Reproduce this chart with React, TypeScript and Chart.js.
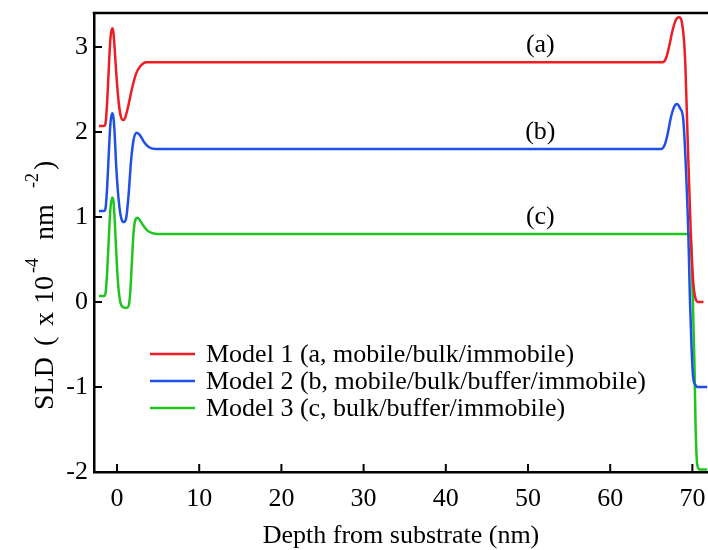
import React, { useEffect, useRef } from 'react';
import { Chart, registerables } from 'chart.js';

Chart.register(...registerables);

// ---------- data ----------
const model1X = [-2.2, -1.6, -1.4, -1.2, -1.0, -0.8, -0.6, -0.45, -0.3, -0.1, 0.2, 0.5, 0.75, 1.0, 1.4, 1.8, 2.3, 2.8, 3.6, 66.4, 66.8, 67.2, 67.6, 68.0, 68.4, 68.7, 69.0, 69.15, 69.4, 69.8, 70.1, 70.45, 70.7, 71.35];
const model1Y = [2.07, 2.07, 2.1, 2.35, 2.75, 3.1, 3.22, 3.18, 3.0, 2.7, 2.35, 2.17, 2.14, 2.17, 2.32, 2.5, 2.68, 2.77, 2.82, 2.82, 2.87, 3.02, 3.2, 3.32, 3.35, 3.3, 3.05, 2.77, 1.99, 0.83, 0.24, 0.02, 0.0, 0.0];

const model2X = [-2.2, -1.6, -1.4, -1.2, -1.0, -0.8, -0.6, -0.45, -0.3, -0.1, 0.2, 0.5, 0.8, 1.1, 1.4, 1.7, 2.0, 2.4, 2.8, 3.3, 3.9, 4.8, 66.2, 66.6, 67.0, 67.4, 67.8, 68.1, 68.5, 68.9, 69.2, 69.5, 69.7, 69.9, 70.1, 70.4, 70.6, 71.8];
const model2Y = [1.07, 1.07, 1.1, 1.35, 1.75, 2.1, 2.22, 2.18, 2.0, 1.6, 1.2, 0.99, 0.94, 0.98, 1.25, 1.65, 1.9, 1.99, 1.96, 1.88, 1.82, 1.8, 1.8, 1.84, 1.98, 2.18, 2.3, 2.33, 2.28, 2.14, 1.6, 0.83, 0.04, -0.54, -0.89, -0.98, -1.0, -1.0];

const model3X = [-2.2, -1.6, -1.4, -1.2, -1.0, -0.8, -0.6, -0.45, -0.3, -0.1, 0.1, 0.4, 0.7, 1.1, 1.4, 1.6, 1.8, 2.0, 2.25, 2.5, 2.8, 3.2, 3.7, 4.3, 5.0, 69.5, 69.8, 70.05, 70.25, 70.4, 70.6, 70.9, 71.8];
const model3Y = [0.07, 0.07, 0.1, 0.35, 0.75, 1.1, 1.23, 1.2, 1.0, 0.6, 0.25, 0.0, -0.06, -0.07, -0.05, 0.1, 0.45, 0.8, 0.97, 0.99, 0.96, 0.9, 0.84, 0.81, 0.8, 0.8, 0.74, 0.04, -0.73, -1.51, -1.92, -1.97, -1.97];

const seriesLabels = [
  'Model 1 (a, mobile/bulk/immobile)',
  'Model 2 (b, mobile/bulk/buffer/immobile)',
  'Model 3 (c, bulk/buffer/immobile)',
];
const seriesColors = ['#ee1c24', '#1f4fe6', '#1fc41f'];

const xTicks = [0, 10, 20, 30, 40, 50, 60, 70];
const yTicks = [-2, -1, 0, 1, 2, 3];

const curveTags = ['(a)', '(b)', '(c)'];
const tagX = [51.5, 51.5, 51.5];
const tagY = [3.02, 2.0, 1.0];

const xTitle = 'Depth from substrate (nm)';
const yTitleParts = [
  { t: 'SLD', sup: false, at: 0 },
  { t: '(', sup: false, at: 64 },
  { t: 'x', sup: false, at: 84 },
  { t: '10', sup: false, at: 106 },
  { t: '-4', sup: true, at: 137 },
  { t: 'nm', sup: false, at: 170 },
  { t: '-2', sup: true, at: 222 },
  { t: ')', sup: false, at: 240 },
];

const FONT = "'Liberation Serif', 'Times New Roman', serif";

const decorPlugin = {
  id: 'decor',
  afterDraw(chart: any) {
    const { ctx, chartArea: a, scales } = chart;
    const x = scales.x;
    const y = scales.y;
    ctx.save();
    ctx.strokeStyle = '#000';
    // top border
    ctx.lineWidth = 2.5;
    ctx.beginPath();
    ctx.moveTo(a.left - 1.25, a.top);
    ctx.lineTo(a.right, a.top);
    ctx.stroke();
    // inward ticks
    ctx.lineWidth = 2;
    yTicks.forEach((v) => {
      const py = y.getPixelForValue(v);
      ctx.beginPath();
      ctx.moveTo(a.left, py);
      ctx.lineTo(a.left + 8, py);
      ctx.stroke();
    });
    xTicks.forEach((v) => {
      const px = x.getPixelForValue(v);
      ctx.beginPath();
      ctx.moveTo(px, a.bottom);
      ctx.lineTo(px, a.bottom - 8);
      ctx.stroke();
    });
    // curve tags
    ctx.fillStyle = '#000';
    ctx.font = `26px ${FONT}`;
    ctx.textAlign = 'center';
    ctx.textBaseline = 'middle';
    curveTags.forEach((t, i) => {
      ctx.fillText(t, x.getPixelForValue(tagX[i]), y.getPixelForValue(tagY[i]));
    });
    // legend
    const rowY = [354, 381, 408];
    chart.data.datasets.forEach((ds: any, i: number) => {
      ctx.strokeStyle = ds.borderColor;
      ctx.lineWidth = 2.5;
      ctx.beginPath();
      ctx.moveTo(150, rowY[i]);
      ctx.lineTo(195, rowY[i]);
      ctx.stroke();
      ctx.fillStyle = '#000';
      ctx.textAlign = 'left';
      ctx.textBaseline = 'middle';
      ctx.font = `26px ${FONT}`;
      ctx.fillText(ds.label, 206, rowY[i] + 1);
    });
    // x title
    ctx.textAlign = 'center';
    ctx.textBaseline = 'middle';
    ctx.font = `26px ${FONT}`;
    ctx.fillText(xTitle, (a.left + a.right) / 2, 536);
    // y title (rotated, with superscripts)
    const mainFont = `28px ${FONT}`;
    const supFont = `18px ${FONT}`;
    ctx.translate(53, 410);
    ctx.rotate(-Math.PI / 2);
    ctx.textAlign = 'left';
    ctx.textBaseline = 'alphabetic';
    yTitleParts.forEach((p) => {
      ctx.font = p.sup ? supFont : mainFont;
      ctx.fillText(p.t, p.at, p.sup ? -15 : 0);
    });
    ctx.restore();
  },
};

export default function App() {
  const ref = useRef<HTMLCanvasElement | null>(null);
  useEffect(() => {
    if (!ref.current) return;
    const xs = [model1X, model2X, model3X];
    const ys = [model1Y, model2Y, model3Y];
    const chart = new Chart(ref.current, {
      type: 'line',
      data: {
        datasets: seriesLabels.map((label, i) => ({
          label,
          data: xs[i].map((xv, j) => ({ x: xv, y: ys[i][j] })),
          borderColor: seriesColors[i],
          backgroundColor: seriesColors[i],
          borderWidth: 2.5,
          pointRadius: 0,
          fill: false,
          cubicInterpolationMode: 'monotone' as const,
        })),
      },
      options: {
        responsive: false,
        animation: false,
        devicePixelRatio: 1,
        layout: { padding: { top: 13, left: 0, right: 0, bottom: 0 } },
        plugins: {
          legend: { display: false },
          tooltip: { enabled: false },
        },
        scales: {
          x: {
            type: 'linear',
            min: -2.8,
            max: 71.9,
            afterBuildTicks: (s: any) => {
              s.ticks = xTicks.map((v) => ({ value: v }));
            },
            afterFit: (s: any) => {
              s.height = 78;
              s.paddingLeft = 0;
              s.paddingRight = 0;
            },
            grid: { display: true, drawOnChartArea: false, drawTicks: false },
            border: { display: true, color: '#000', width: 2.5 },
            ticks: {
              color: '#000',
              font: { family: FONT, size: 26 },
              padding: 12,
              maxRotation: 0,
              autoSkip: false,
            },
          },
          y: {
            type: 'linear',
            min: -2,
            max: 3.4,
            afterBuildTicks: (s: any) => {
              s.ticks = yTicks.map((v) => ({ value: v }));
            },
            afterFit: (s: any) => {
              s.width = 94;
              s.paddingTop = 0;
              s.paddingBottom = 0;
            },
            grid: { display: true, drawOnChartArea: false, drawTicks: false },
            border: { display: true, color: '#000', width: 2.5 },
            ticks: {
              color: '#000',
              font: { family: FONT, size: 26 },
              padding: 6,
              autoSkip: false,
            },
          },
        },
      },
      plugins: [decorPlugin],
    });
    return () => chart.destroy();
  }, []);
  return (
    <div style={{ position: 'absolute', left: 0, top: 0, width: 708, height: 550, background: '#fff' }}>
      <canvas ref={ref} width={708} height={550} />
    </div>
  );
}
